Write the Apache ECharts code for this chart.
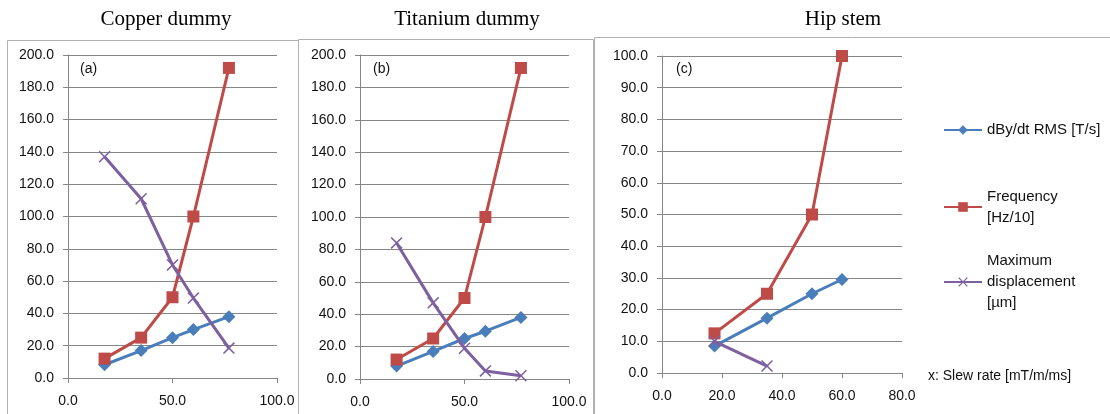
<!DOCTYPE html>
<html>
<head>
<meta charset="utf-8">
<title>Slew rate charts</title>
<script src="https://cdn.jsdelivr.net/npm/echarts@6/dist/echarts.min.js"></script>
<style>
    html, body { margin: 0; padding: 0; background: #fff; }
    #chart { width: 1110px; height: 414px; }
</style>
</head>
<body>
<div id="chart"></div>
<script>
// 数据 - x 为 slew rate
let xDummy = [17.5, 35, 50, 60, 77];
let xHip = [17.5, 35, 50, 60];
let xHipDisp = [17.5, 35];

let copperRms = [8.2, 17, 25, 30, 38];
let copperFreq = [12, 25, 50, 100, 192];
let copperDisp = [137, 111, 70, 49.5, 18.5];

let titaniumRms = [8, 17, 25, 29.5, 38];
let titaniumFreq = [12, 25, 50, 100, 192];
let titaniumDisp = [84, 47, 19, 5, 2];

let hipRms = [8.5, 17.3, 25, 29.5];
let hipFreq = [12.5, 25, 50, 100];
let hipDisp = [10, 2.2];

let panelTitles = ['Copper dummy', 'Titanium dummy', 'Hip stem'];
let panelTags = ['(a)', '(b)', '(c)'];
let seriesNames = ['dBy/dt RMS [T/s]', 'Frequency [Hz/10]', 'Maximum displacement [µm]'];
// 图例里的换行写法
let legendLabels = ['dBy/dt RMS [T/s]', 'Frequency\n[Hz/10]', 'Maximum\ndisplacement\n[µm]'];

let blue = '#4a7ebb', red = '#be4b48', purple = '#7d60a0';
let grey = '#868686';
let crossPath = 'path://M0,0.9 L0.9,0 L5,4.1 L9.1,0 L10,0.9 L5.9,5 L10,9.1 L9.1,10 L5,5.9 L0.9,10 L0,9.1 L4.1,5 Z';

function zip(xs, ys) {
    return ys.map(function (y, i) { return [xs[i], y]; });
}

function xAxisOf(idx, max, interval) {
    return {
        type: 'value', gridIndex: idx, min: 0, max: max, interval: interval,
        axisLine: { show: true, onZero: false, lineStyle: { color: grey, width: 1 } },
        axisTick: { show: true, length: 5, lineStyle: { color: grey } },
        splitLine: { show: false },
        axisLabel: { margin: 16, color: '#111', fontSize: 14, fontFamily: 'Liberation Sans',
            formatter: function (v) { return v.toFixed(1); } }
    };
}

function yAxisOf(idx, max, interval) {
    return {
        type: 'value', gridIndex: idx, min: 0, max: max, interval: interval,
        axisLine: { show: true, lineStyle: { color: grey, width: 1 } },
        axisTick: { show: true, length: 5, lineStyle: { color: grey } },
        splitLine: { show: true, lineStyle: { color: grey, width: 1 } },
        axisLabel: { margin: 14, color: '#111', fontSize: 14, fontFamily: 'Liberation Sans',
            formatter: function (v) { return v.toFixed(1); } }
    };
}

function lineOf(idx, nameIdx, data) {
    let color = [blue, red, purple][nameIdx];
    let symbol = ['diamond', 'rect', crossPath][nameIdx];
    let size = [13, 12, 12][nameIdx];
    return {
        name: seriesNames[nameIdx], type: 'line', xAxisIndex: idx, yAxisIndex: idx,
        data: data, symbol: symbol, symbolSize: size, showAllSymbol: true,
        color: color,
        lineStyle: { color: color, width: 3 },
        itemStyle: { color: color, borderWidth: 0 },
        z: 2 + nameIdx
    };
}

// 每个图例单独一个组件，首行文字与图标对齐
function legendOf(nameIdx, top, pad) {
    return {
        data: [seriesNames[nameIdx]], orient: 'vertical', left: 943, top: top, padding: 0,
        itemWidth: 38, itemHeight: 12, itemGap: 0,
        formatter: function () { return legendLabels[nameIdx]; },
        textStyle: { fontSize: 15, lineHeight: 21, color: '#111', fontFamily: 'Liberation Sans',
            padding: [pad, 0, 0, 0] }
    };
}

let chart = echarts.init(document.getElementById('chart'));

let titleCenters = [166, 467, 843];
let tagPos = [[80, 69], [373, 69], [676, 69]];
let graphics = [
    { type: 'rect', shape: { x: 7.5, y: 40.5, width: 291, height: 390 }, style: { fill: 'none', stroke: '#b0b0b0' }, silent: true },
    { type: 'rect', shape: { x: 298.5, y: 39.5, width: 295, height: 390 }, style: { fill: 'none', stroke: '#b0b0b0' }, silent: true },
    { type: 'rect', shape: { x: 594.5, y: 37.5, width: 530, height: 390 }, style: { fill: 'none', stroke: '#b0b0b0' }, silent: true },
    { type: 'text', left: 928, top: 369, style: { text: 'x: Slew rate [mT/m/ms]', fontSize: 14, fontFamily: 'Liberation Sans', fill: '#111' } }
];
panelTitles.forEach(function (t, i) {
    graphics.push({ type: 'text', x: titleCenters[i], y: 19,
        style: { text: t, fontSize: 21, fontFamily: 'Liberation Serif', fill: '#000', align: 'center', verticalAlign: 'middle' } });
    graphics.push({ type: 'text', x: tagPos[i][0], y: tagPos[i][1],
        style: { text: panelTags[i], fontSize: 14, fontFamily: 'Liberation Sans', fill: '#111', verticalAlign: 'middle' } });
});

let option = {
    animation: false,
    grid: [
        { left: 68, top: 55, width: 209, height: 323 },
        { left: 360, top: 55, width: 209, height: 324 },
        { left: 662, top: 56, width: 240, height: 317 }
    ],
    xAxis: [xAxisOf(0, 100, 50), xAxisOf(1, 100, 50), xAxisOf(2, 80, 20)],
    yAxis: [yAxisOf(0, 200, 20), yAxisOf(1, 200, 20), yAxisOf(2, 100, 10)],
    legend: [
        legendOf(0, 119.5, 0),
        legendOf(1, 175.5, 21),
        legendOf(2, 229.5, 42)
    ],
    graphic: graphics,
    series: [
        lineOf(0, 0, zip(xDummy, copperRms)),
        lineOf(0, 1, zip(xDummy, copperFreq)),
        lineOf(0, 2, zip(xDummy, copperDisp)),
        lineOf(1, 0, zip(xDummy, titaniumRms)),
        lineOf(1, 1, zip(xDummy, titaniumFreq)),
        lineOf(1, 2, zip(xDummy, titaniumDisp)),
        lineOf(2, 0, zip(xHip, hipRms)),
        lineOf(2, 1, zip(xHip, hipFreq)),
        lineOf(2, 2, zip(xHipDisp, hipDisp))
    ]
};
chart.setOption(option);
</script>
</body>
</html>
